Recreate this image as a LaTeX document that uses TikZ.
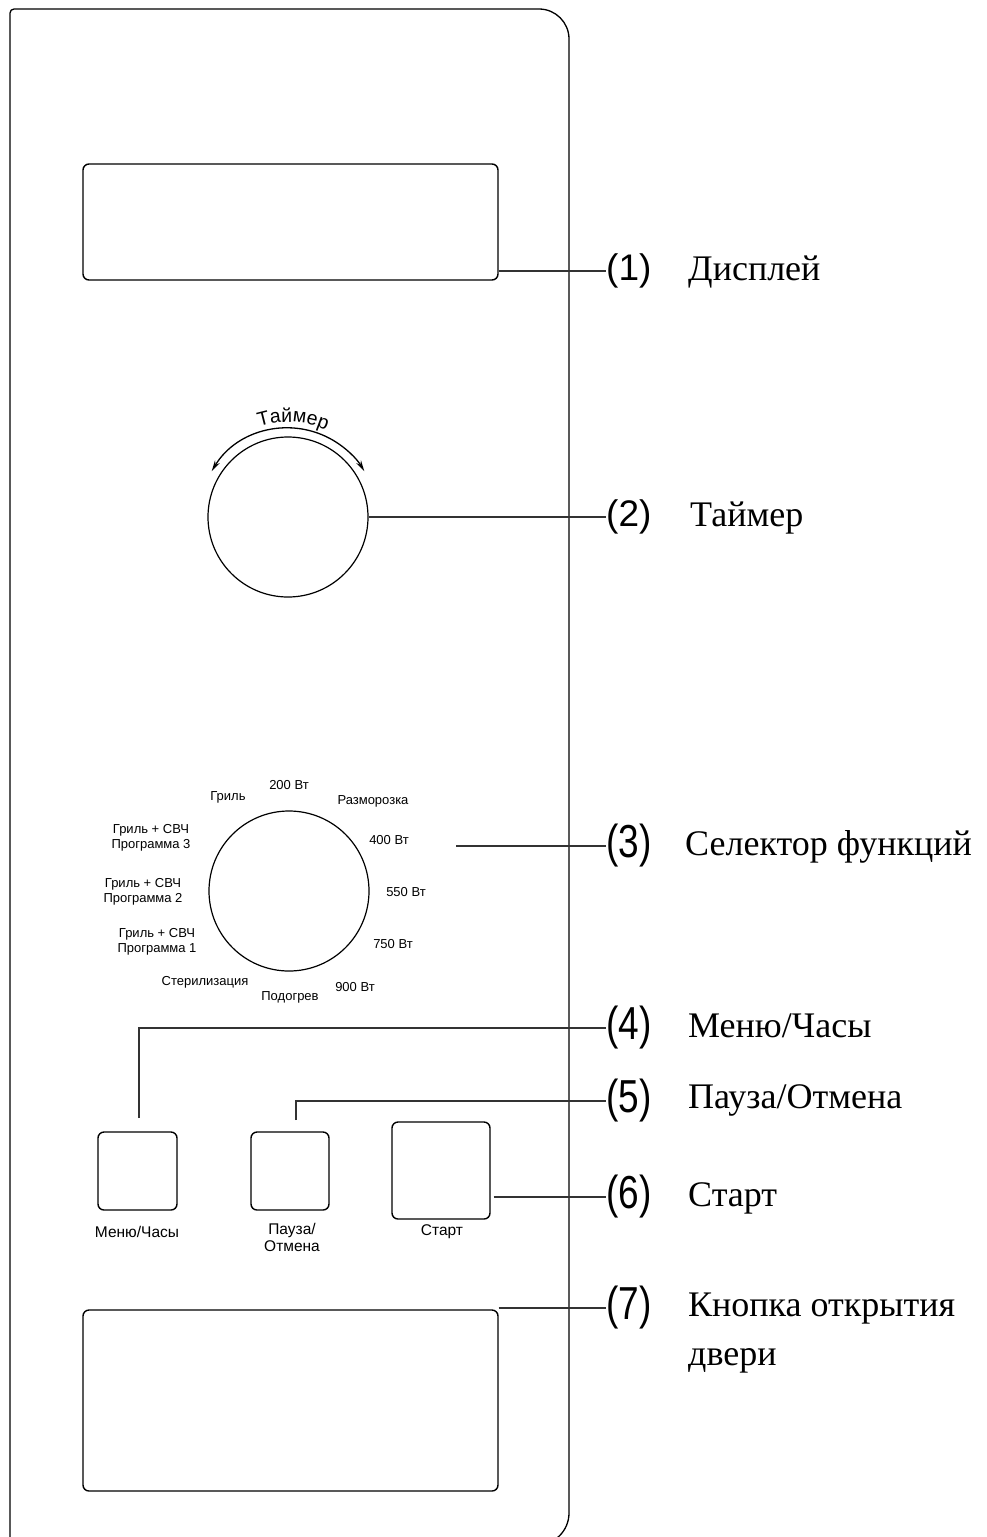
\documentclass[tikz,border=0pt]{standalone}
\usepackage{graphicx}
\usepackage{fontspec}
\setmainfont{Liberation Serif}
\setsansfont{Liberation Sans}
\usetikzlibrary{arrows.meta,decorations.text,positioning}

\begin{document}
\begin{tikzpicture}[x=1pt,y=-1pt,
  outline/.style={line width=1.3pt},
  panelbox/.style={draw,line width=1.4pt,rounded corners=6pt,inner sep=0pt},
  knob/.style={draw,circle,line width=1.2pt,minimum size=160pt,inner sep=0pt},
  callout/.style={line width=2.5pt,black!80},
  num/.style={font=\sffamily\fontsize{37}{37}\selectfont,inner sep=0pt,anchor=west},
  lbl/.style={font=\fontsize{36}{49}\selectfont,inner sep=0pt,anchor=west,align=left},
  dial/.style={font=\sffamily\fontsize{13}{15}\selectfont,inner sep=0pt,align=center},
  btnlbl/.style={font=\sffamily\fontsize{15.5}{17}\selectfont,inner sep=0pt,align=center}]
\useasboundingbox (0,0) rectangle (986,1537);
\clip (0,0) rectangle (986,1537);
\draw[outline] (10,1545) -- (10,13) arc[start angle=180,end angle=270,radius=4]
  -- (539,9) arc[start angle=-90,end angle=0,radius=30]
  -- (569,1513) arc[start angle=0,end angle=90,radius=32] -- (10,1545);
\node[panelbox,minimum width=415pt,minimum height=116pt] (disp) at (290.5,222) {};
\node[knob] (timer) at (288,517) {};
\draw[outline,{Stealth[length=11pt,width=5.5pt]}-{Stealth[length=11pt,width=5.5pt]}]
  (timer.center) ++(-149:89) arc[start angle=-149,end angle=-31,radius=89];
\path[decorate,decoration={text along path,text align=center,
  text={|\sffamily\fontsize{19.5}{19.5}\selectfont|Таймер}}]
  (timer.center) ++(-123:95) arc[start angle=-123,end angle=-51,radius=95];
\node[knob] (selector) at (289,891) {};
\node[dial] (d200) at (289,785) {200 Вт};
\node[dial] (grill) at (228,797) {Гриль};
\node[dial] (defrost) at (373,801) {Разморозка};
\node[dial] (d400) at (389,840) {400 Вт};
\node[dial] (d550) at (406,892) {550 Вт};
\node[dial] (d750) at (393,944) {750 Вт};
\node[dial] (d900) at (355,987) {900 Вт};
\node[dial] (warm) at (290,997) {Подогрев};
\node[dial] (steril) at (205,982) {Стерилизация};
\node[dial] (prog1) at (157,942) {Гриль + СВЧ\\Программа 1};
\node[dial] (prog2) at (143,892) {Гриль + СВЧ\\Программа 2};
\node[dial] (prog3) at (151,838) {Гриль + СВЧ\\Программа 3};
\node[panelbox,minimum width=79pt,minimum height=78pt] (menu) at (137.5,1171) {};
\node[panelbox,minimum width=78pt,minimum height=78pt] (pause) at (290,1171) {};
\node[panelbox,minimum width=98pt,minimum height=97pt] (start) at (441,1170.5) {};
\node[btnlbl] (menulbl) at (137,1232) {Меню/Часы};
\node[btnlbl] (pauselbl) at (292,1237) {Пауза/\\Отмена};
\node[btnlbl] (startlbl) at (442,1232) {Старт};
\node[panelbox,minimum width=415pt,minimum height=181pt] (door) at (290.5,1400.5) {};
\node[num] (n1) at (606,271) {(1)};
\node[num] (n2) at (606,517) {(2)};
\node[num] (n3) at (606,846) {\scalebox{1}[1.25]{(3)}};
\node[num] (n4) at (606,1028) {\scalebox{1}[1.25]{(4)}};
\node[num] (n5) at (606,1101) {\scalebox{1}[1.25]{(5)}};
\node[num] (n6) at (606,1197) {\scalebox{1}[1.25]{(6)}};
\node[num] (n7) at (606,1308) {\scalebox{1}[1.25]{(7)}};
\node[lbl] (l1) at (688,272) {Дисплей};
\node[lbl] (l2) at (690,518) {Таймер};
\node[lbl] (l3) at (685,847) {Селектор функций};
\node[lbl] (l4) at (688,1026) {Меню/Часы};
\node[lbl] (l5) at (688,1100) {Пауза/Отмена};
\node[lbl] (l6) at (688,1198) {Старт};
\node[lbl] (l7) at (688,1333) {Кнопка открытия\\двери};
\coordinate (c3) at (456,846);
\coordinate (c4) at (139,1118);
\coordinate (c5) at (296,1120);
\draw[callout] (disp.east |- n1.west) -- (n1.west);
\draw[callout] (timer.east) -- (n2.west);
\draw[callout] (c3) -- (n3.west);
\draw[callout] (c4) |- (n4.west);
\draw[callout] (c5) |- (n5.west);
\draw[callout] ([xshift=3pt]start.east |- n6.west) -- (n6.west);
\draw[callout] (door.north east |- n7.west) -- (n7.west);
\end{tikzpicture}
\end{document}
